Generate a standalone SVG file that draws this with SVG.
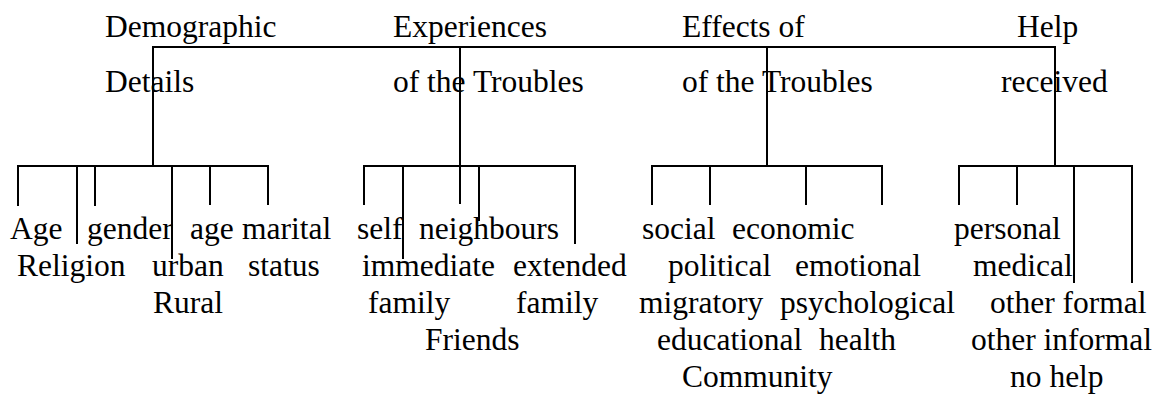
<svg xmlns="http://www.w3.org/2000/svg" width="1159" height="394" viewBox="0 0 1159 394">
<style>
text{font-family:"Liberation Serif","Times New Roman",serif;font-size:31.5px;fill:#000}
.ln{stroke:#000;stroke-width:2;fill:none;stroke-linecap:square}
</style>
<rect width="1159" height="394" fill="#fff"/>
<g id="connectors" class="ln">
<path d="M153,47 H1055 M153,47 V166 M460,47 V166 M767,47 V166 M1055,47 V166"/>
<path d="M18,166 H268 M18,166 V205 M77,166 V243 M95,166 V205 M172,166 V258 M210,166 V204 M268,166 V204"/>
<path d="M364,166 H575 M364,166 V204 M403,166 V258 M460,166 V203 M479,166 V220 M575,166 V243"/>
<path d="M652,166 H882 M652,166 V204 M710,166 V204 M806,166 V204 M882,166 V204"/>
<path d="M959,166 H1132 M959,166 V204 M1017,166 V204 M1074,166 V282 M1132,166 V282"/>
</g>
<g id="demographic">
<text x="105" y="37">Demographic</text>
<text x="105" y="92">Details</text>
</g>
<g id="experiences">
<text x="393" y="37">Experiences</text>
<text x="393" y="92">of the Troubles</text>
</g>
<g id="effects">
<text x="682" y="37">Effects of</text>
<text x="682" y="92">of the Troubles</text>
</g>
<g id="help">
<text x="1017" y="37">Help</text>
<text x="1001" y="92">received</text>
</g>
<g id="demographic-items">
<text x="10" y="239">Age</text>
<text x="87" y="239">gender</text>
<text x="190" y="239">age</text>
<text x="242" y="239">marital</text>
<text x="17" y="276">Religion</text>
<text x="152" y="276">urban</text>
<text x="248" y="276">status</text>
<text x="153" y="313">Rural</text>
</g>
<g id="experiences-items">
<text x="357" y="239">self</text>
<text x="419" y="239">neighbours</text>
<text x="362" y="276">immediate</text>
<text x="513" y="276">extended</text>
<text x="368" y="313">family</text>
<text x="516" y="313">family</text>
<text x="425" y="350">Friends</text>
</g>
<g id="effects-items">
<text x="642" y="239">social</text>
<text x="732" y="239">economic</text>
<text x="668" y="276">political</text>
<text x="795" y="276">emotional</text>
<text x="639" y="313">migratory</text>
<text x="780" y="313">psychological</text>
<text x="657" y="350">educational</text>
<text x="819" y="350">health</text>
<text x="682" y="387">Community</text>
</g>
<g id="help-items">
<text x="954" y="239">personal</text>
<text x="973" y="276">medical</text>
<text x="990" y="313">other formal</text>
<text x="971" y="350">other informal</text>
<text x="1010" y="387">no help</text>
</g>
</svg>
